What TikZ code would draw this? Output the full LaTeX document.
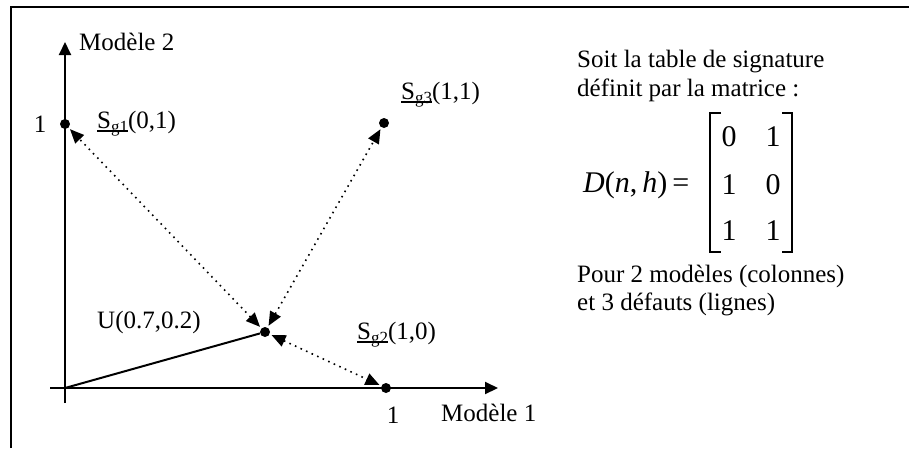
\documentclass[tikz,border=0pt]{standalone}
\usepackage{fontspec}
\setmainfont{Liberation Serif}
\usetikzlibrary{arrows.meta}
\newcommand\sglab[1]{\setbox0\hbox{S\raisebox{-0.35ex}{\fontsize{17}{17}\selectfont g#1}}\rlap{\rule[-3pt]{\wd0}{1.4pt}}\box0}
\begin{document}
\begin{tikzpicture}[x=1pt,y=-1pt,
  every node/.style={font=\fontsize{25}{30}\selectfont, inner sep=0pt},
  mathtxt/.style={font=\fontsize{30}{36}\selectfont},
  dot/.style={circle,fill=black,minimum size=10pt,inner sep=0pt},
  axis/.style={line width=2pt,-{Triangle[length=13pt,width=12pt]}},
  link/.style={line width=1.6pt,dash pattern=on 1.6pt off 4.5pt,
     {Triangle[length=14pt,width=12pt]}-{Triangle[length=14pt,width=12pt]},
     shorten <=2pt, shorten >=2pt},
  lbl/.style={anchor=west},
  brk/.style={line width=1.6pt}]
\useasboundingbox (0,0) rectangle (909,448);
% frame
\draw[line width=2pt] (11,448) -- (11,7) -- (909,7);
% axes
\coordinate (xs) at (50,388);
\coordinate (xe) at (498,388);
\coordinate (ys) at (65,403);
\coordinate (ye) at (65,42);
\coordinate (O) at (65,388);
\draw[axis] (xs) -- (xe);
\draw[axis] (ys) -- (ye);
% points
\node[dot] (S1) at (65,124) {};
\node[dot] (S3) at (384,123) {};
\node[dot] (S2) at (386,388) {};
\node[dot] (U) at (265,332) {};
% connectors
\draw[line width=2pt] (O) -- (U);
\draw[link] (U) -- (S1);
\draw[link] (U) -- (S3);
\draw[link] (U) -- (S2);
% labels
\node[lbl] (m2) at (79,42) {Modèle 2};
\node (one2) at (40,124) {1};
\node[lbl] (l1) at (97,124) {\sglab{1}(0,1)};
\node[lbl] (l3) at (401,95) {\sglab{3}(1,1)};
\node[lbl] (lu) at (97,322) {U(0.7,0.2)};
\node[lbl] (l2) at (357,335) {\sglab{2}(1,0)};
\node (one1) at (393,415) {1};
\node[lbl] (m1) at (441,413) {Modèle 1};
% right text
\node[anchor=base west] (t1) at (577,67) {Soit la table de signature};
\node[anchor=base west] (t2) at (577,96) {définit par la matrice :};
\node[lbl,mathtxt] (D) at (583,185) {\textit{D}(\textit{n},\,\textit{h})\,=};
\draw[brk] (721,113) -- (710,113) -- (710,252) -- (721,252);
\draw[brk] (782,113) -- (792,113) -- (792,252) -- (782,252);
\node[mathtxt] (a11) at (729,137) {0};
\node[mathtxt] (a12) at (773,137) {1};
\node[mathtxt] (a21) at (729,185) {1};
\node[mathtxt] (a22) at (773,185) {0};
\node[mathtxt] (a31) at (729,231) {1};
\node[mathtxt] (a32) at (773,231) {1};
\node[anchor=base west] (t3) at (577,282) {Pour 2 modèles (colonnes)};
\node[anchor=base west] (t4) at (577,310) {et 3 défauts (lignes)};
\end{tikzpicture}
\end{document}
